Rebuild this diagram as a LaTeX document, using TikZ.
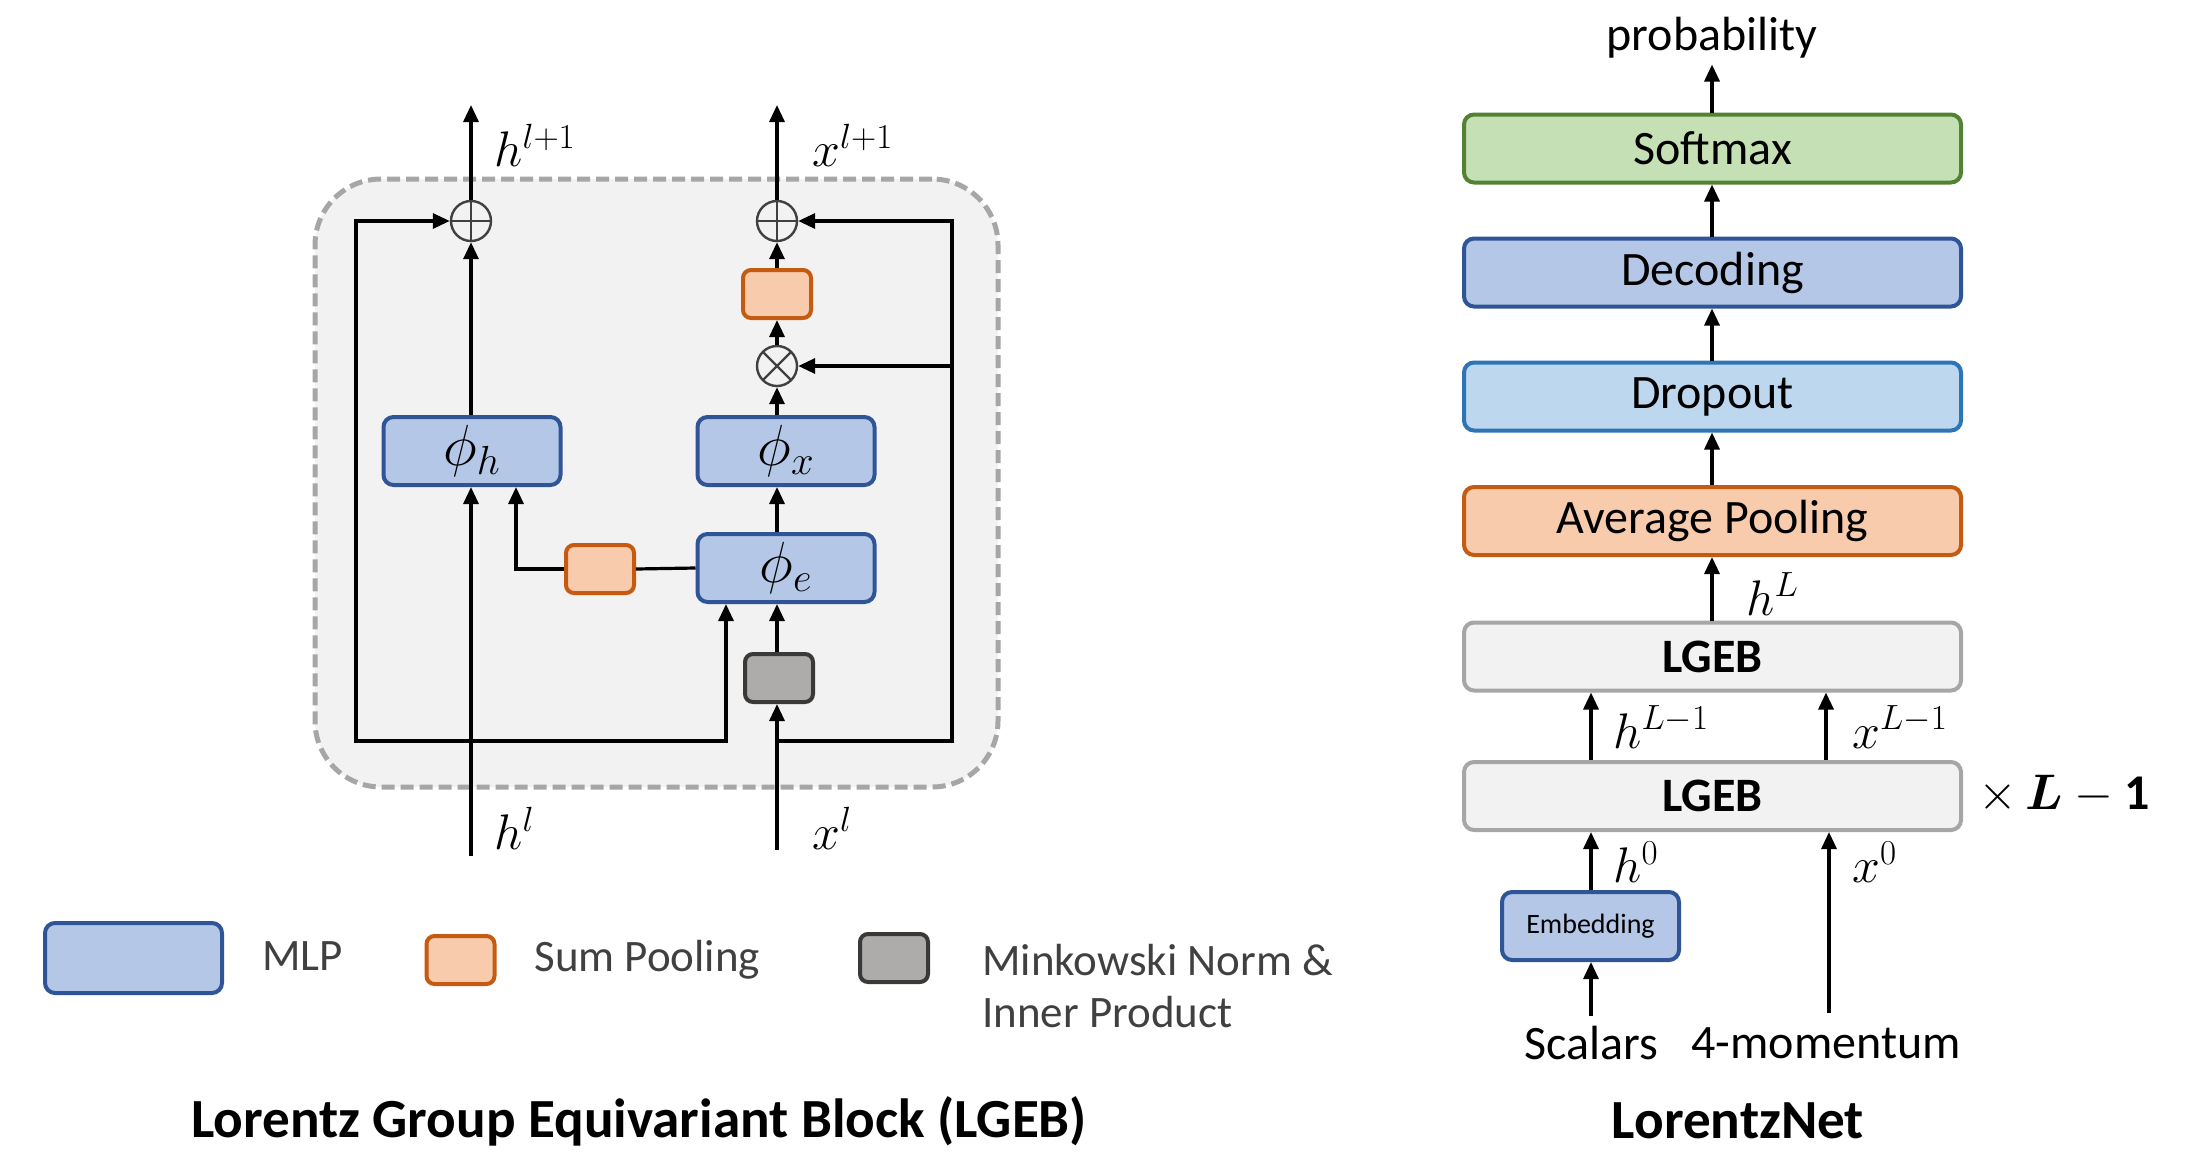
\RequirePackage{fix-cm}
\documentclass[tikz,border=0pt]{standalone}
\usepackage{bm}
\usepackage{fontspec}
\setmainfont{Carlito}
\usetikzlibrary{arrows.meta}
\definecolor{mlpfill}{HTML}{B4C7E7}
\definecolor{mlpdraw}{HTML}{2F5597}
\definecolor{spfill}{HTML}{F8CBAD}
\definecolor{spdraw}{HTML}{C55A11}
\definecolor{mnfill}{HTML}{AEABAB}
\definecolor{mndraw}{HTML}{3B3838}
\definecolor{smfill}{HTML}{C5E0B4}
\definecolor{smdraw}{HTML}{548235}
\definecolor{dofill}{HTML}{BDD7EE}
\definecolor{dodraw}{HTML}{2E75B6}
\definecolor{lgfill}{HTML}{F2F2F2}
\definecolor{lgdraw}{HTML}{A6A6A6}
\definecolor{opdraw}{HTML}{404040}
\definecolor{legtext}{HTML}{404040}
\tikzset{
  box/.style={draw, rounded corners=5pt, line width=2pt, inner sep=0pt, align=center},
  mlp/.style={box, fill=mlpfill, draw=mlpdraw},
  spool/.style={box, fill=spfill, draw=spdraw, rounded corners=4pt},
  mink/.style={box, fill=mnfill, draw=mndraw, rounded corners=4pt},
  smax/.style={box, fill=smfill, draw=smdraw},
  drop/.style={box, fill=dofill, draw=dodraw},
  lgeb/.style={box, fill=lgfill, draw=lgdraw},
  bigbox/.style={minimum width=248.5pt, minimum height=34pt},
  phibox/.style={minimum width=88.5pt, minimum height=34pt},
  smallbox/.style={minimum width=34pt, minimum height=24pt},
  opcirc/.style={circle, draw=opdraw, line width=1.2pt, minimum size=20pt, inner sep=0pt},
  oplusnode/.style={opcirc, path picture={
     \draw[opdraw, line width=1.2pt] (path picture bounding box.north) -- (path picture bounding box.south)
       (path picture bounding box.west) -- (path picture bounding box.east);}},
  otimesnode/.style={opcirc, path picture={
     \draw[opdraw, line width=1.2pt] (path picture bounding box.north west) -- (path picture bounding box.south east)
       (path picture bounding box.north east) -- (path picture bounding box.south west);}},
  arr/.style={-{Triangle[length=8.5pt,width=7.5pt]}, line width=1.6pt, black},
  wire/.style={line width=1.6pt, black},
  txt/.style={font=\fontsize{24}{28}\selectfont, inner sep=0pt},
  mth/.style={font=\fontsize{25}{29}\selectfont, inner sep=0pt},
  phitxt/.style={font=\fontsize{29}{32}\selectfont},
  legtxt/.style={font=\fontsize{22.5}{26}\selectfont, text=legtext, inner sep=0pt, align=left},
  titletxt/.style={font=\fontsize{27.6}{31}\selectfont\bfseries, inner sep=0pt},
}
\begin{document}
\begin{tikzpicture}[x=0.5pt,y=-0.5pt]
\useasboundingbox (0,0) rectangle (2192,1152);

% ===== LGEB block =====
\node[draw=lgdraw, fill=lgfill, line width=2.5pt, dash pattern=on 6.5pt off 3pt,
      rounded corners=33pt, minimum width=341.5pt, minimum height=304pt] (block) at (656.5,483) {};

\node[mlp, phibox, phitxt] (phih) at (472,451) {$\phi_h$};
\node[mlp, phibox, phitxt] (phix) at (786,451) {$\phi_x$};
\node[mlp, phibox, phitxt] (phie) at (786,568) {$\phi_e$};
\node[spool, smallbox] (sp1) at (600,569) {};
\node[spool, smallbox] (sp2) at (777,294) {};
\node[mink, smallbox] (mn) at (779,678) {};
\node[oplusnode] (oph) at (471,221) {};
\node[oplusnode] (opx) at (777,221) {};
\node[otimesnode] (otm) at (777,366) {};

\coordinate (hin) at (471,856);
\coordinate (hout) at (471,105);
\coordinate (xin) at (777,850);
\coordinate (xout) at (777,105);
\coordinate (hj) at (471,741);
\coordinate (lb) at (356,741);
\coordinate (ej) at (726,741);
\coordinate (xj) at (777,741);
\coordinate (rb) at (952,741);
\coordinate (spl) at (516,569);

% h path
\draw[arr] (hin) -- (phih.south -| hin);
\draw[arr] (hj) -- (lb) |- (oph.west);
\draw[arr] (hj) -- (ej) -- (ej |- phie.south);
\draw[arr] (phih.north -| hin) -- (oph.south);
\draw[arr] (oph.north) -- (hout);
\draw[wire] (phie.west) -- (sp1.east);
\draw[arr] (sp1.west) -- (spl) -- (spl |- phih.south);

% x path
\draw[arr] (xin) -- (mn.south -| xin);
\draw[arr] (mn.north -| xin) -- (phie.south -| xin);
\draw[arr] (phie.north -| xin) -- (phix.south -| xin);
\draw[arr] (phix.north -| xin) -- (otm.south);
\draw[arr] (otm.north) -- (sp2.south -| otm);
\draw[arr] (sp2.north -| opx) -- (opx.south);
\draw[arr] (opx.north) -- (xout);
\draw[arr] (xj) -- (rb) |- (opx.east);
\draw[arr] (rb |- otm.east) -- (otm.east);

% labels
\node[mth, anchor=west] (lhout) at (494,145) {$h^{l+1}$};
\node[mth, anchor=west] (lxout) at (812,145) {$x^{l+1}$};
\node[mth, anchor=west] (lhin) at (494,828) {$h^{l}$};
\node[mth, anchor=west] (lxin) at (812,828) {$x^{l}$};

% legend
\node[mlp, phibox, minimum height=35pt] (legmlp) at (133.5,958) {};
\node[spool, smallbox] (legsp) at (460.5,960) {};
\node[mink, smallbox] (legmn) at (894,958) {};
\node[legtxt, anchor=west] (tmlp) at (262,956) {MLP};
\node[legtxt, anchor=west] (tsp) at (534,960) {Sum Pooling};
\node[legtxt, anchor=north west] (tmn) at (982,944) {Minkowski Norm \&\\Inner Product};

\node[titletxt] (title1) at (639,1121) {Lorentz Group Equivariant Block (LGEB)};

% ===== LorentzNet =====
\node[smax, bigbox, txt] (soft) at (1712.5,148.5) {Softmax};
\node[mlp, bigbox, txt] (dec) at (1712.5,272.5) {Decoding};
\node[drop, bigbox, txt] (dro) at (1712.5,396.5) {Dropout};
\node[spool, bigbox, txt, rounded corners=5pt] (avg) at (1712.5,521) {Average Pooling};
\node[lgeb, bigbox, txt, font=\fontsize{24}{28}\selectfont\bfseries] (lg2) at (1712.5,656.5) {LGEB};
\node[lgeb, bigbox, txt, font=\fontsize{24}{28}\selectfont\bfseries] (lg1) at (1712.5,796) {LGEB};
\node[mlp, phibox, font=\fontsize{14}{16}\selectfont] (emb) at (1590.5,926) {Embedding};
\node[txt] (prob) at (1712,38) {probability};
\node[txt] (scal) at (1591,1043) {Scalars};
\node[txt] (mom) at (1826,1043) {4-momentum};

\coordinate (ha) at (1591,0);
\coordinate (xa) at (1826,0);
\coordinate (x0a) at (1829,0);
\coordinate (x0b) at (1829,1013);
\coordinate (scb) at (1591,1016);

\draw[arr] (soft.north -| prob) -- ++(0,-48);
\draw[arr] (dec.north -| prob) -- (soft.south -| prob);
\draw[arr] (dro.north -| prob) -- (dec.south -| prob);
\draw[arr] (avg.north -| prob) -- (dro.south -| prob);
\draw[arr] (lg2.north -| prob) -- (avg.south -| prob);
\draw[arr] (lg1.north -| ha) -- (lg2.south -| ha);
\draw[arr] (lg1.north -| xa) -- (lg2.south -| xa);
\draw[arr] (emb.north -| ha) -- (lg1.south -| ha);
\draw[arr] (x0b) -- (lg1.south -| x0a);
\draw[arr] (scb) -- (emb.south -| scb);

\node[mth, anchor=west] (lhL) at (1746,594) {$h^{L}$};
\node[mth, anchor=west] (lhL1) at (1613,727) {$h^{L-1}$};
\node[mth, anchor=west] (lxL1) at (1852,727) {$x^{L-1}$};
\node[mth, anchor=west] (lh0) at (1613,862) {$h^{0}$};
\node[mth, anchor=west] (lx0) at (1852,862) {$x^{0}$};
\node[mth, font=\fontsize{25}{29}\selectfont] (times) at (2064,794) {$\times\,\bm{L}-\mathbf{1}$};

\node[titletxt] (title2) at (1738,1121) {LorentzNet};
\end{tikzpicture}
\end{document}
